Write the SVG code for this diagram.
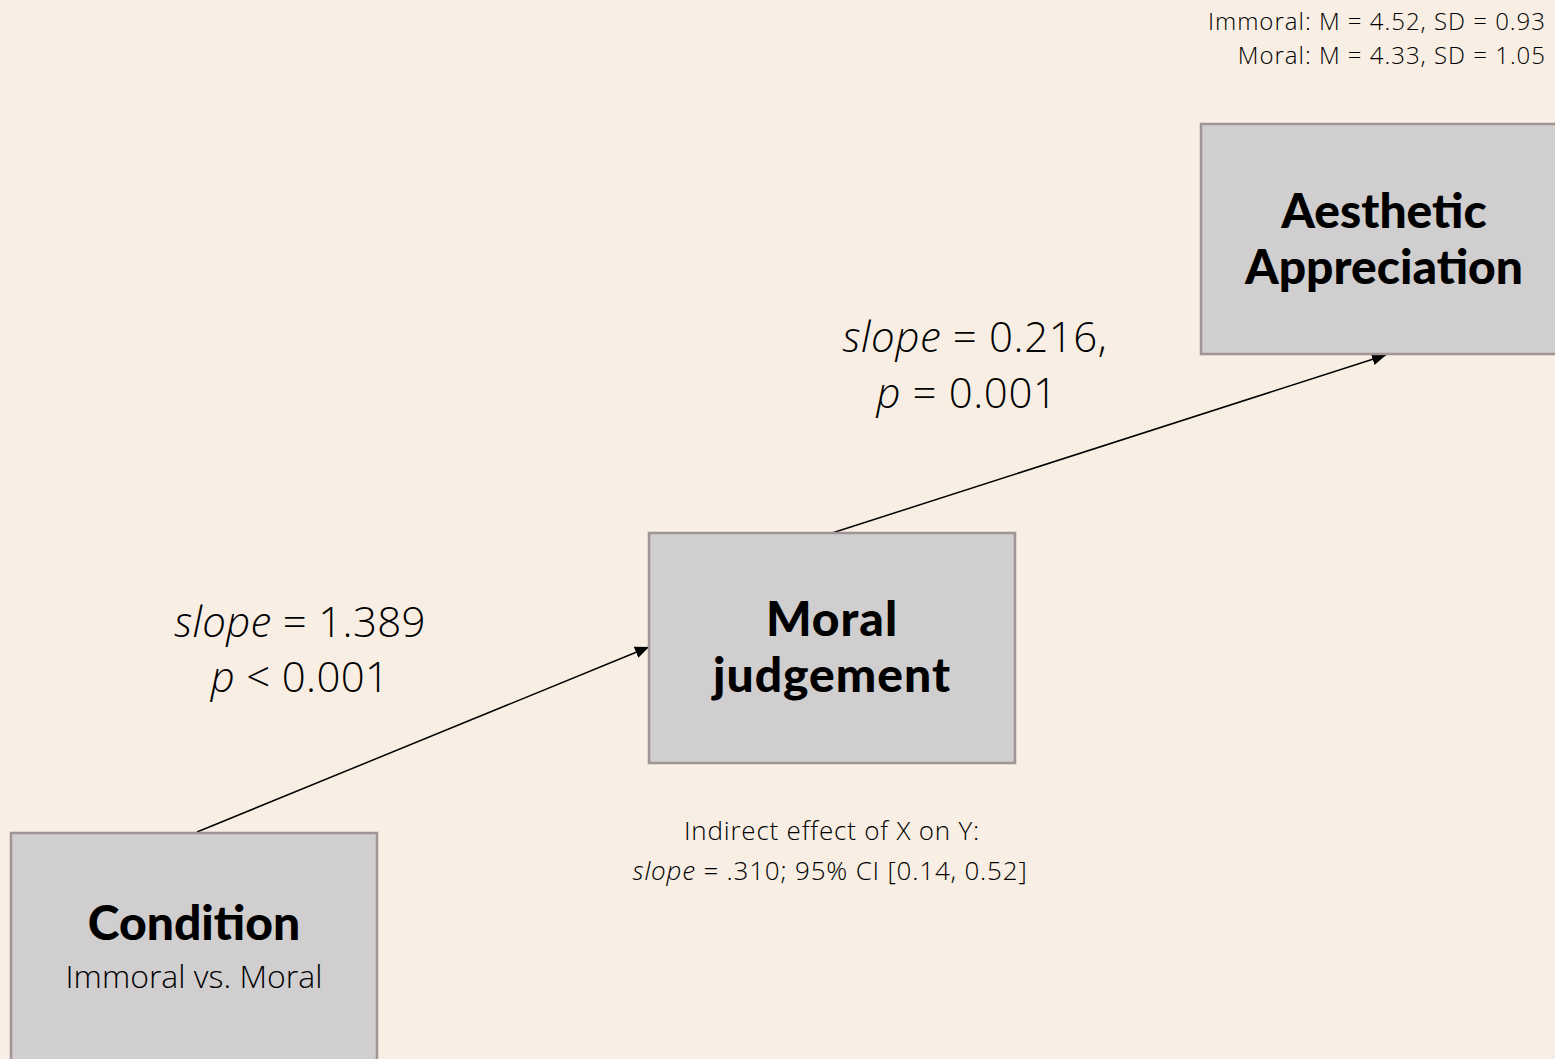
<svg xmlns="http://www.w3.org/2000/svg" width="1555" height="1059" viewBox="0 0 1555 1059">
<defs>
<style>
.box{fill:#D0CECF;stroke:#A09594;stroke-width:2.5}
.title{font-family:Lato,"DejaVu Sans",sans-serif;font-weight:900;fill:#000;text-anchor:middle;font-size:48px}
.lt{font-family:"Open Sans","Liberation Sans",sans-serif;font-weight:300;fill:#000}
.conn{stroke:#000;stroke-width:1.5;fill:none;marker-end:url(#arr)}
</style>
<marker id="arr" viewBox="0 0 14 12" refX="14" refY="6" markerWidth="14" markerHeight="12" markerUnits="userSpaceOnUse" orient="auto">
<path d="M0,0 L14,6 L0,12 z" fill="#000"/>
</marker>
</defs>
<rect width="1555" height="1059" fill="#F8EEE4"/>
<g id="stats" class="lt" font-size="24" text-anchor="end">
<text x="1546" y="30" letter-spacing="1">Immoral: M = 4.52, SD = 0.93</text>
<text x="1546" y="64" letter-spacing="1">Moral: M = 4.33, SD = 1.05</text>
</g>
<g id="connectors">
<line class="conn" x1="197" y1="832" x2="649" y2="647"/>
<line class="conn" x1="832" y1="533" x2="1386" y2="355"/>
</g>
<g id="node-aesthetic">
<rect class="box" x="1201" y="124" width="360" height="230"/>
<text class="title" x="1384" y="228">Aesthetic</text>
<text class="title" x="1384" y="284">Appreciation</text>
</g>
<g id="node-moral">
<rect class="box" x="649" y="533" width="366" height="230"/>
<text class="title" x="832" y="636" letter-spacing="1">Moral</text>
<text class="title" x="832" y="692" letter-spacing="1">judgement</text>
</g>
<g id="node-condition">
<rect class="box" x="11" y="833" width="366" height="240"/>
<text class="title" x="194" y="940">Condition</text>
<text class="lt" font-size="32" x="194" y="988" text-anchor="middle">Immoral vs. Moral</text>
</g>
<g id="labels" class="lt" text-anchor="middle">
<text font-size="42" x="975" y="352" letter-spacing="0.6"><tspan font-style="italic">slope</tspan> = 0.216,</text>
<text font-size="42" x="967" y="408" letter-spacing="0.6"><tspan font-style="italic">p</tspan> = 0.001</text>
<text font-size="42" x="300" y="637" letter-spacing="0.3"><tspan font-style="italic">slope</tspan> = 1.389</text>
<text font-size="42" x="300" y="692" letter-spacing="0.3"><tspan font-style="italic">p</tspan> &lt; 0.001</text>
<text font-size="26" x="832" y="840" letter-spacing="0.8">Indirect effect of X on Y:</text>
<text font-size="26" x="830" y="880" letter-spacing="0.8"><tspan font-style="italic">slope</tspan> = .310; 95% CI [0.14, 0.52]</text>
</g>
</svg>
